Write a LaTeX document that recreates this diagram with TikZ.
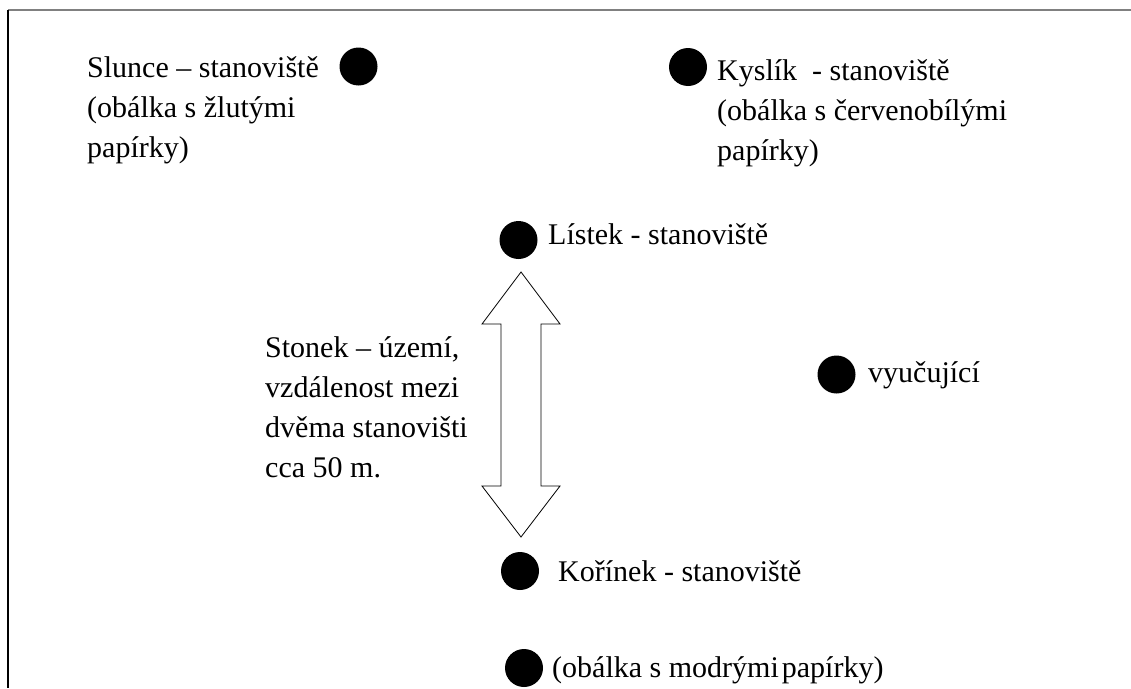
\documentclass[tikz,border=0pt]{standalone}
\usepackage{fontspec}
\setmainfont{Liberation Serif}
\begin{document}
\begin{tikzpicture}[x=1pt,y=-1pt,
  dot/.style={circle,fill=black,inner sep=0pt,minimum size=38pt},
  lbl/.style={anchor=base west,inner sep=0pt,align=left,font=\fontsize{30}{40}\selectfont},
  frameline/.style={line width=1.2pt},
  arrowshape/.style={draw=black,fill=white,line width=0.8pt,line join=miter}]
\useasboundingbox[fill=white] (0,0) rectangle (1131,688);
% frame
\draw[frameline,draw=gray] (8,10) -- (1131,10);
\draw[frameline,draw=black] (8,10) -- (8,688);
% dots
\node[dot] (slunce) at (358.5,66.5) {};
\node[dot] (kyslik) at (688,67) {};
\node[dot] (listek) at (518.5,240) {};
\node[dot] (vyuc) at (836.5,374.5) {};
\node[dot] (korinek) at (520,571) {};
\node[dot] (modre) at (524,668) {};
% labels (base anchor = baseline of the last line)
\node[lbl] (tslunce) at (87,157) {Slunce – stanoviště\\(obálka s žlutými\\papírky)};
\node[lbl] (tkyslik) at (717,160) {Kyslík~ - stanoviště\\(obálka s červenobílými\\papírky)};
\node[lbl] (tlistek) at (548,244) {Lístek - stanoviště};
\node[lbl] (tstonek) at (265,477) {Stonek – území,\\vzdálenost mezi\\dvěma stanovišti\\cca 50 m.};
\node[lbl] (tvyuc) at (868,382) {vyučující};
\node[lbl] (tkorinek) at (558,581) {Kořínek - stanoviště};
\node[lbl] (tmodre) at (552,677) {(obálka s modrými\hspace{0.1em}papírky)};
% double arrow
\coordinate (atop) at (521,272);
\coordinate (abot) at (521,537);
\draw[arrowshape] (atop) -- ++(39,52) -- ++(-19,0) -- (541,486) -- ++(19,0) -- (abot)
  -- (482,486) -- ++(19,0) -- (501,324) -- ++(-19,0) -- cycle;
\end{tikzpicture}
\end{document}
